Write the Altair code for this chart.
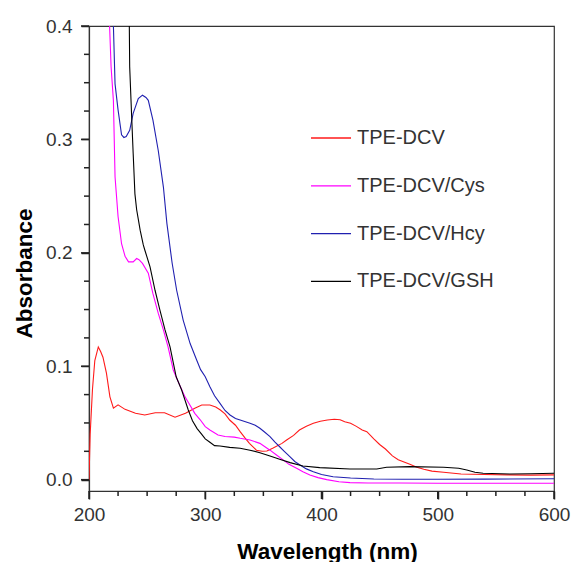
import altair as alt
import pandas as pd

# ---------------- data ----------------
series_names = ["TPE-DCV", "TPE-DCV/Cys", "TPE-DCV/Hcy", "TPE-DCV/GSH"]
series_colors = ["#ff1a1a", "#ff00ff", "#2020b0", "#000000"]

dcv_wl = [200, 201, 203, 205, 208, 210, 212, 215, 218, 221, 225, 231, 240, 248, 257, 265,
          274, 283, 291, 297, 304, 309, 313, 317, 321, 326, 330, 334, 338, 344, 349, 353,
          358, 366, 370, 376, 381, 387, 393, 399, 405, 411, 416, 420, 425, 430, 435, 439,
          445, 450, 455, 461, 466, 471, 476, 482, 488, 495, 505, 520, 540, 560, 580, 600]
dcv_abs = [0.000, 0.040, 0.080, 0.105, 0.117, 0.113, 0.108, 0.094, 0.073, 0.063, 0.066, 0.062,
           0.0585, 0.057, 0.059, 0.059, 0.055, 0.0585, 0.063, 0.0658, 0.0658, 0.064, 0.0614,
           0.058, 0.0526, 0.048, 0.0423, 0.037, 0.032, 0.026, 0.0250, 0.0252, 0.0277, 0.032,
           0.035, 0.039, 0.0438, 0.047, 0.0497, 0.0515, 0.0526, 0.0532, 0.0528, 0.051, 0.0497,
           0.047, 0.0438, 0.0423, 0.036, 0.031, 0.027, 0.021, 0.0175, 0.0155, 0.0136, 0.011,
           0.0092, 0.0075, 0.0065, 0.0050, 0.0045, 0.0042, 0.0040, 0.0042]

cys_wl = [214, 217, 219, 221, 222.4, 225, 228, 231, 234, 238, 241, 243, 246, 251, 255, 259.6,
          264, 268, 272.5, 276, 282.6, 291, 295.5, 300, 304, 311, 317, 325, 330, 338.5, 347,
          355.7, 361, 367, 372, 378.6, 384, 390, 397, 404.5, 415, 424.5, 440, 467, 500, 540, 600]
cys_abs = [0.60, 0.42, 0.364, 0.334, 0.267, 0.232, 0.208, 0.197, 0.192, 0.192, 0.195, 0.194,
           0.1907, 0.182, 0.164, 0.1466, 0.132, 0.117, 0.0967, 0.088, 0.073, 0.0585, 0.053,
           0.0467, 0.0438, 0.0394, 0.038, 0.0375, 0.0365, 0.035, 0.032, 0.026, 0.022, 0.0174,
           0.0135, 0.010, 0.007, 0.0041, 0.0018, 0.000, -0.0018, -0.0026, -0.003, -0.003,
           -0.0032, -0.0032, -0.0032]

hcy_wl = [219, 221, 222.4, 225, 228, 230, 232, 235, 238, 242.4, 246, 249, 251, 255, 259.6,
          264, 267, 271.5, 275.4, 281, 287, 292.6, 296, 300, 304, 308, 312.7, 317, 321.3, 326,
          330, 338.5, 343, 347, 351, 355.7, 360, 364, 368, 373, 377, 381.5, 387, 393, 400, 410,
          425, 445, 470, 500, 540, 600]
hcy_abs = [0.55, 0.40, 0.349, 0.326, 0.304, 0.3017, 0.3025, 0.308, 0.323, 0.336, 0.339, 0.337,
           0.3345, 0.317, 0.290, 0.258, 0.226, 0.191, 0.167, 0.1407, 0.120, 0.1055, 0.097,
           0.0907, 0.082, 0.074, 0.0673, 0.061, 0.057, 0.054, 0.0526, 0.0497, 0.048, 0.0453,
           0.042, 0.038, 0.033, 0.029, 0.025, 0.020, 0.016, 0.013, 0.0095, 0.007, 0.0045,
           0.0026, 0.0014, 0.0006, 0.0003, 0.0004, 0.0005, 0.0008]

gsh_wl = [232.5, 234.5, 235, 236.7, 238, 239.5, 241, 242.5, 244, 246.7, 248, 252.5, 256.8, 261,
          265.4, 269.7, 275, 279.7, 285.4, 289, 293, 297, 300, 304, 308, 312.7, 321, 330, 338.5,
          347, 355.7, 364, 373, 384, 398.5, 424.5, 447.5, 456, 476, 505, 518, 525, 532, 539,
          562, 580, 600]
gsh_abs = [0.60, 0.42, 0.364, 0.32, 0.2876, 0.252, 0.238, 0.229, 0.220, 0.207, 0.2025, 0.1877,
           0.167, 0.1495, 0.132, 0.117, 0.0907, 0.079, 0.0614, 0.052, 0.045, 0.040, 0.036,
           0.033, 0.030, 0.0297, 0.0285, 0.0277, 0.026, 0.0238, 0.0209, 0.018, 0.015, 0.012,
           0.0106, 0.0094, 0.0094, 0.011, 0.0115, 0.011, 0.010, 0.0085, 0.0065, 0.0056, 0.005,
           0.0052, 0.0056]

x_major_ticks = [200, 300, 400, 500, 600]
x_minor_ticks = [225, 250, 275, 325, 350, 375, 425, 450, 475, 525, 550, 575]
y_major_ticks = [0.0, 0.1, 0.2, 0.3, 0.4]
y_minor_ticks = [0.025, 0.05, 0.075, 0.125, 0.15, 0.175, 0.225, 0.25, 0.275,
                 0.325, 0.35, 0.375]

# ---------------- tables ----------------
frames = []
for name, wl, ab in zip(series_names,
                        [dcv_wl, cys_wl, hcy_wl, gsh_wl],
                        [dcv_abs, cys_abs, hcy_abs, gsh_abs]):
    frames.append(pd.DataFrame({"wavelength": wl, "absorbance": ab, "sample": name}))
df = pd.concat(frames, ignore_index=True)

xt_major = pd.DataFrame({"wavelength": x_major_ticks})
xt_minor = pd.DataFrame({"wavelength": x_minor_ticks})
yt_major = pd.DataFrame({"absorbance": y_major_ticks})
yt_minor = pd.DataFrame({"absorbance": y_minor_ticks})

FONT = "Liberation Sans"
GREY = "#333333"
TICK = "#222222"
XT = "Wavelength (nm)"
YT = "Absorbance"
PLOT_H = 465

x_scale = alt.Scale(domain=[200, 600], nice=False, zero=False)
y_scale = alt.Scale(domain=[-0.01, 0.4], nice=False, zero=False)

lines = (
    alt.Chart(df)
    .mark_line(clip=True, strokeWidth=1.1)
    .encode(
        x=alt.X(
            "wavelength:Q",
            scale=x_scale,
            title=XT,
            axis=alt.Axis(
                values=x_major_ticks,
                tickSize=8,
                tickWidth=1.5,
                tickColor=TICK,
                labelPadding=6,
                labelFlush=False,
                labelOverlap=False,
                titleX=238,
                titleY=67,
                titleBaseline="alphabetic",
                titleAlign="center",
            ),
        ),
        y=alt.Y(
            "absorbance:Q",
            scale=y_scale,
            title=YT,
            axis=alt.Axis(
                values=y_major_ticks,
                format=".1f",
                tickSize=8,
                tickWidth=1.5,
                tickColor=TICK,
                labelPadding=9,
                labelFlush=False,
                labelOverlap=False,
                titleX=-64.5,
                titleY=247,
                titleAngle=270,
                titleBaseline="middle",
                titleAlign="center",
            ),
        ),
        color=alt.Color(
            "sample:N",
            scale=alt.Scale(domain=series_names, range=series_colors),
            sort=series_names,
            legend=alt.Legend(
                title=None,
                orient="none",
                legendX=221,
                legendY=91,
                direction="vertical",
                symbolType="stroke",
                symbolSize=1600,
                symbolStrokeWidth=1.3,
                labelFontSize=20,
                labelFont=FONT,
                labelColor=GREY,
                labelOffset=5,
                rowPadding=16.8,
                padding=0,
            ),
        ),
        detail="sample:N",
    )
)


def x_ticks(data, length):
    return alt.Chart(data).mark_rule(color=TICK, strokeWidth=1.5, clip=False).encode(
        x=alt.X("wavelength:Q", scale=x_scale, title=XT),
        y=alt.value(PLOT_H),
        y2=alt.value(PLOT_H + length),
    )


def y_ticks(data, length):
    return alt.Chart(data).mark_rule(color=TICK, strokeWidth=1.5, clip=False).encode(
        y=alt.Y("absorbance:Q", scale=y_scale, title=YT),
        x=alt.value(0),
        x2=alt.value(-length),
    )


chart = (
    alt.layer(
        lines,
        x_ticks(xt_major, 8),
        x_ticks(xt_minor, 5),
        y_ticks(yt_major, 8),
        y_ticks(yt_minor, 5),
    )
    .properties(
        width=465,
        height=PLOT_H,
        autosize=alt.AutoSizeParams(type="none"),
        padding={"left": 89, "top": 26, "right": 19, "bottom": 71},
        background="white",
    )
    .configure_view(stroke=GREY, strokeWidth=1.2)
    .configure_axis(
        grid=False,
        domainColor=GREY,
        domainWidth=1.2,
        labelFont=FONT,
        labelFontSize=19,
        labelColor=GREY,
        titleFont=FONT,
        titleFontSize=22.5,
        titleFontWeight="bold",
        titleColor="#000000",
    )
)

chart.save("out.html", embed_options={"renderer": "svg", "actions": False})
